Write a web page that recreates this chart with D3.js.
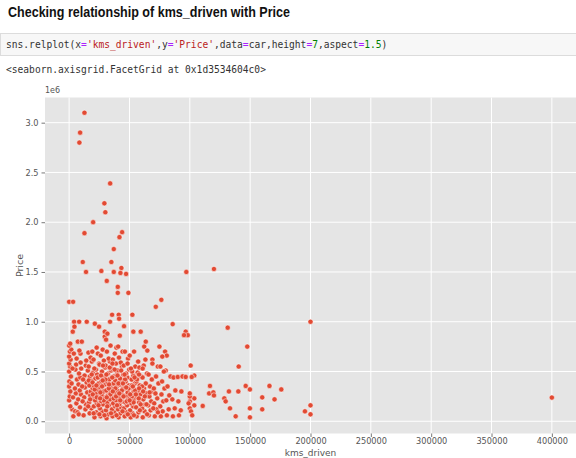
<!DOCTYPE html>
<html>
<head>
<meta charset="utf-8">
<script src="https://cdn.jsdelivr.net/npm/d3@7"></script>
<style>
  body { margin: 0; background: #fff; }
  svg { display: block; }
</style>
</head>
<body>
<div id="chart"></div>
<script>
const width = 576;
const height = 458;

// kms_driven, Price (rupees)
const highPriced = [
  [12700,3100000],[9100,2900000],[8500,2800000],[34000,2390000],[29200,2190000],[30000,2100000],
  [19900,2000000],[12700,1890000],[43900,1900000],[41700,1850000],[37000,1730000],[11300,1600000],
  [35000,1600000],[14000,1500000],[26700,1510000],[37000,1500000],[43300,1540000],[42500,1490000],
  [47200,1480000],[31200,1410000],[40300,1350000],[40300,1290000],[49100,1290000],[71800,1150000],
  [76400,1220000],[97100,1500000],[120000,1530000],[0,1200000],[3300,1200000]
];

const mainCluster = [
  [0,210000],[500,250000],[1000,300000],[0,350000],[200,400000],[1500,450000],[0,500000],[800,550000],
  [0,580000],[1200,620000],[0,650000],[600,700000],[1800,720000],[0,760000],[900,780000],[2500,120000],
  [1000,150000],[3500,50000],[4100,1000000],[8300,1000000],[3000,900000],[4400,950000],[7200,800000],
  [10500,800000],[9400,680000],[8500,710000],[5000,100000],[6000,180000],[5500,280000],[4800,330000],
  [6500,420000],[5200,520000],[5800,570000],[6200,630000],[7000,90000],[8000,70000],[9000,140000],
  [7500,220000],[9800,270000],[8800,310000],[7800,370000],[9200,440000],[8200,480000],[10000,530000],
  [9500,590000],[12000,60000],[13500,120000],[14000,170000],[12500,240000],[15000,290000],[13000,340000],
  [14500,390000],[12800,460000],[15500,510000],[13800,560000],[14200,610000],[16000,690000],[14600,1000000],
  [17000,80000],[18500,130000],[16500,190000],[19000,230000],[17500,260000],[18000,300000],[19500,330000],
  [16800,360000],[18200,410000],[17200,450000],[19800,490000],[16200,550000],[18800,600000],[17800,640000],
  [19200,700000],[21000,40000],[22500,90000],[20500,150000],[23000,180000],[21500,210000],[24000,250000],
  [22000,280000],[23500,320000],[20800,350000],[24500,380000],[21800,430000],[23200,470000],[22200,520000],
  [24800,580000],[20200,620000],[23800,680000],[22800,740000],[21300,980000],[24800,950000],[26000,50000],
  [27500,100000],[25500,130000],[28000,170000],[26500,200000],[29000,240000],[27000,270000],[28500,300000],
  [25800,340000],[29500,370000],[26800,400000],[28200,440000],[27200,500000],[29800,540000],[25200,570000],
  [28800,610000],[26200,660000],[27800,720000],[29500,850000],[29500,900000],[31700,880000],[31000,30000],
  [32500,70000],[30500,110000],[33000,160000],[31500,190000],[34000,220000],[32000,260000],[33500,290000],
  [30800,310000],[34500,360000],[31800,390000],[33200,420000],[32200,480000],[34800,510000],[30200,560000],
  [33800,600000],[32800,630000],[31300,700000],[34300,760000],[30600,820000],[33900,1000000],[35600,1070000],
  [36000,50000],[37500,90000],[35500,120000],[38000,150000],[36500,180000],[39000,210000],[37000,250000],
  [38500,280000],[35800,320000],[39500,350000],[36800,380000],[38200,410000],[37200,450000],[39800,490000],
  [35200,530000],[38800,580000],[36200,620000],[37800,680000],[39200,740000],[41100,1070000],[41400,1030000],
  [42000,860000],[45500,955000],[41000,40000],[42500,80000],[40500,120000],[43000,140000],[41500,170000],
  [44000,200000],[42000,240000],[43500,270000],[40800,300000],[44500,330000],[41800,370000],[43200,400000],
  [42200,430000],[44800,470000],[40200,510000],[43800,550000],[42800,590000],[41300,640000],[44300,700000],
  [40600,750000],[46000,50000],[47500,90000],[45500,130000],[48000,160000],[46500,190000],[49000,230000],
  [47000,260000],[48500,290000],[45800,330000],[49500,360000],[46800,400000],[48200,440000],[47200,480000],
  [49800,520000],[45200,560000],[48800,630000],[46200,700000],[51000,40000],[52500,80000],[50500,110000],
  [53000,150000],[51500,180000],[54000,220000],[52000,250000],[53500,300000],[50800,340000],[54500,380000],
  [51800,420000],[53200,460000],[52200,500000],[54800,550000],[50200,660000],[53800,700000],[52400,1070000],
  [53200,900000],[59300,900000],[56000,50000],[57500,90000],[55500,140000],[58000,190000],[56500,240000],
  [59000,270000],[57000,310000],[58500,360000],[55800,400000],[59500,450000],[56800,490000],[58200,540000],
  [57200,600000],[61000,40000],[62500,100000],[60500,130000],[63000,170000],[61500,220000],[64000,280000],
  [62000,330000],[63500,380000],[60800,440000],[64500,480000],[61800,560000],[63200,620000],[62200,750000],
  [63500,800000],[64800,710000],[66000,60000],[67500,110000],[65500,160000],[68000,200000],[66500,250000],
  [69000,300000],[67000,350000],[68500,420000],[65800,470000],[69000,620000],[69000,580000],[71000,50000],
  [72500,120000],[70500,180000],[73000,230000],[71500,280000],[74000,380000],[72000,450000],[73500,550000],
  [74800,750000],[79500,700000],[80900,660000],[77200,650000],[75600,550000],[80000,510000],[76000,50000],
  [77500,100000],[75500,150000],[78000,200000],[76500,270000],[79000,330000],[77000,400000],[78500,500000],
  [81000,60000],[82500,120000],[80500,210000],[83000,260000],[81500,350000],[84000,450000],[86000,50000],
  [87500,130000],[85500,220000],[88000,310000],[86500,440000],[90000,445000],[91000,60000],[92500,110000],
  [90500,200000],[93000,300000],[94000,450000],[96600,445000],[85800,976000],[96600,900000],[98300,865000],
  [95200,865000]
];

// extra points filling the dense core of the cluster
const clusterCore = [
  [15800,150000],[17400,220000],[19600,270000],[21200,320000],[22900,240000],[24300,160000],[25900,290000],
  [27300,350000],[28700,210000],[30100,420000],[31600,150000],[32900,330000],[34200,270000],[35700,440000],
  [36900,230000],[38300,330000],[39700,160000],[40900,380000],[42300,210000],[43700,310000],[45100,250000],
  [46300,420000],[47800,200000],[49200,330000],[50600,270000],[51900,360000],[53400,190000],[54700,310000],
  [56200,420000],[57700,230000],[59200,170000],[60400,350000],[62700,250000],[64100,170000],[66700,290000],
  [70200,330000],[16300,410000],[18700,470000],[20900,530000],[23700,440000],[26400,460000],[28100,560000],
  [30900,470000],[33600,540000],[35900,580000],[37700,520000],[40100,460000],[43100,510000],[45900,470000],
  [48400,580000],[51200,530000],[54200,440000],[57900,470000],[60900,530000],[11200,200000],[10800,350000],
  [11600,420000],[3200,240000],[2000,380000],[2800,530000],[3900,680000],[20300,80000],[25100,70000],
  [29300,60000],[34700,80000],[39300,60000],[44200,100000],[48600,70000],[53700,60000],[58600,110000],
  [64600,70000],[69700,130000],[73600,90000],[19400,390000],[22600,360000],[25700,230000],[27800,410000],
  [31200,240000],[33100,370000],[36200,300000],[38900,250000],[41600,280000],[44600,380000],[47300,340000],
  [50100,210000],[52800,350000],[55300,270000],[58000,330000],[61300,300000]
];

const longDistance = [
  [100700,560000],[103700,460000],[101600,445000],[116700,355000],[116000,280000],[119500,290000],
  [120000,260000],[110700,154000],[132400,300000],[128600,230000],[129700,200000],[133300,130000],
  [138000,50000],[140200,300000],[146300,355000],[149800,320000],[149800,130000],[149800,40000],
  [160000,240000],[160000,120000],[166000,355000],[170200,220000],[175800,320000],[195400,100000],
  [200000,160000],[200000,70000],[200000,1000000],[131400,940000],[147600,750000],[140500,550000],
  [103700,230000],[103700,160000],[100000,200000],[100000,130000],[101000,100000],[99000,180000],
  [100000,250000],[102000,60000],[100000,280000],[400000,238000]
];

const xTicks = [0, 50000, 100000, 150000, 200000, 250000, 300000, 350000, 400000];
const yTicks = [0, 500000, 1000000, 1500000, 2000000, 2500000, 3000000];

const cars = [...highPriced, ...mainCluster, ...clusterCore, ...longDistance];

const plot = { left: 45, top: 97.5, right: 576, bottom: 433.5 };

const svg = d3.select("#chart")
  .append("svg")
  .attr("width", width)
  .attr("height", height);

// notebook header
svg.append("text")
  .attr("x", 8)
  .attr("y", 17)
  .attr("font-family", "Liberation Sans, Arial, sans-serif")
  .attr("font-weight", "bold")
  .attr("font-size", "14px")
  .attr("fill", "#111")
  .attr("textLength", 282)
  .attr("lengthAdjust", "spacingAndGlyphs")
  .text("Checking relationship of kms_driven with Price");

// code cell
svg.append("rect")
  .attr("x", 0.5)
  .attr("y", 33.5)
  .attr("width", width)
  .attr("height", 22)
  .attr("fill", "#f7f7f7")
  .attr("stroke", "#dcdcdc");

const code = svg.append("text")
  .attr("x", 6)
  .attr("y", 48)
  .attr("font-family", "DejaVu Sans Mono, monospace")
  .attr("font-size", "9.6px")
  .attr("fill", "#333");

const codeParts = [
  ["sns.relplot(x", "#333"], ["=", "#aa22ff"], ["'kms_driven'", "#ba2121"], [",y", "#333"],
  ["=", "#aa22ff"], ["'Price'", "#ba2121"], [",data", "#333"], ["=", "#aa22ff"], ["car,height", "#333"],
  ["=", "#aa22ff"], ["7", "#008000"], [",aspect", "#333"], ["=", "#aa22ff"], ["1.5", "#008000"], [")", "#333"]
];
codeParts.forEach(p => code.append("tspan").attr("fill", p[1]).text(p[0]));

svg.append("text")
  .attr("x", 6)
  .attr("y", 73)
  .attr("font-family", "DejaVu Sans Mono, monospace")
  .attr("font-size", "9.6px")
  .attr("fill", "#333")
  .text("<seaborn.axisgrid.FacetGrid at 0x1d3534604c0>");

// scales
const x = d3.scaleLinear()
  .domain([-20000, 420000])
  .range([plot.left, plot.right]);

const y = d3.scaleLinear()
  .domain([-123000, 3253000])
  .range([plot.bottom, plot.top]);

svg.append("rect")
  .attr("x", plot.left)
  .attr("y", plot.top)
  .attr("width", plot.right - plot.left)
  .attr("height", plot.bottom - plot.top)
  .attr("fill", "#e5e5e5");

// grid
svg.append("g")
  .selectAll("line")
  .data(xTicks).enter()
  .append("line")
  .attr("x1", d => x(d)).attr("x2", d => x(d))
  .attr("y1", plot.top).attr("y2", plot.bottom)
  .attr("stroke", "#fff")
  .attr("stroke-width", 1);

svg.append("g")
  .selectAll("line")
  .data(yTicks).enter()
  .append("line")
  .attr("x1", plot.left).attr("x2", plot.right)
  .attr("y1", d => y(d)).attr("y2", d => y(d))
  .attr("stroke", "#fff")
  .attr("stroke-width", 1);

// axes
const xAxis = svg.append("g")
  .attr("transform", `translate(0,${plot.bottom})`)
  .call(d3.axisBottom(x).tickValues(xTicks).tickFormat(d3.format("d")).tickSize(3.5).tickPadding(1.5));

const yAxis = svg.append("g")
  .attr("transform", `translate(${plot.left},0)`)
  .call(d3.axisLeft(y).tickValues(yTicks).tickFormat(d => (d / 1e6).toFixed(1)).tickSize(3.5).tickPadding(3));

[xAxis, yAxis].forEach(a => {
  a.select(".domain").remove();
  a.selectAll(".tick line").attr("stroke", "#555").attr("stroke-width", 0.8);
  a.selectAll(".tick text")
    .attr("fill", "#555")
    .attr("font-family", "DejaVu Sans, sans-serif")
    .attr("font-size", "8.2px");
});

svg.append("text")
  .attr("x", plot.left)
  .attr("y", 93)
  .attr("font-family", "DejaVu Sans, sans-serif")
  .attr("font-size", "8px")
  .attr("fill", "#555")
  .text("1e6");

svg.append("text")
  .attr("transform", `translate(23,${(plot.top + plot.bottom) / 2}) rotate(-90)`)
  .attr("text-anchor", "middle")
  .attr("font-family", "DejaVu Sans, sans-serif")
  .attr("font-size", "9.5px")
  .attr("fill", "#555")
  .text("Price");

svg.append("text")
  .attr("x", (plot.left + plot.right) / 2)
  .attr("y", 455.8)
  .attr("text-anchor", "middle")
  .attr("font-family", "DejaVu Sans, sans-serif")
  .attr("font-size", "9px")
  .attr("fill", "#555")
  .text("kms_driven");

// points
svg.append("g")
  .selectAll("circle")
  .data(cars).enter()
  .append("circle")
  .attr("cx", d => x(d[0]))
  .attr("cy", d => y(d[1]))
  .attr("r", 2.6)
  .attr("fill", "#e24a33")
  .attr("stroke", "#fff")
  .attr("stroke-width", 0.5);
</script>
</body>
</html>
